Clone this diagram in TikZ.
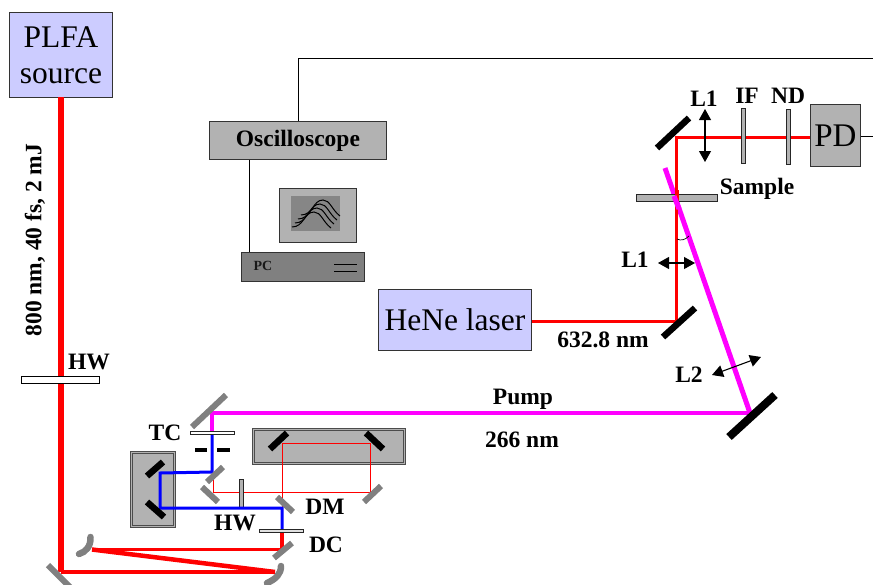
\documentclass[tikz,border=0pt]{standalone}
\usepackage{fontspec}
\setmainfont{Liberation Serif}
\usetikzlibrary{arrows.meta}
\definecolor{boxblue}{HTML}{CCCCFF}
\definecolor{midgray}{HTML}{B2B2B2}
\definecolor{dkgray}{HTML}{808080}
\definecolor{beam}{HTML}{FF0000}
\definecolor{pump}{HTML}{FF00FF}
\definecolor{seed}{HTML}{0000FF}
\tikzset{
  lab/.style={font=\fontsize{23.5}{25}\selectfont\bfseries,inner sep=0pt},
  bigbox/.style={draw=black!80,line width=0.9pt,fill=boxblue,inner sep=0pt,align=center,font=\fontsize{31.5}{35}\selectfont},
  graybox/.style={draw=black!80,line width=0.9pt,fill=midgray,inner sep=0pt},
  plate/.style={draw=black!85,line width=0.7pt,fill=midgray},
  wplate/.style={draw=black,line width=0.7pt,fill=white},
  bmir/.style={line width=6.5pt,black},
  gmir/.style={line width=6pt,dkgray},
  cmir/.style={line width=6.5pt,dkgray,line cap=round},
  tray/.style={draw=black!70,line width=0.8pt,double=midgray,double distance=1.4pt,fill=midgray},
  wire/.style={line width=0.8pt,black},
  dbl/.style={line width=1.1pt,black,{Triangle[length=11pt,width=12pt]}-{Triangle[length=11pt,width=12pt]}},
}
\begin{document}
\begin{tikzpicture}[x=1pt,y=-1pt]
\useasboundingbox (0,0) rectangle (873,584);
\clip (0,0) rectangle (873,584);
% coordinates
\coordinate (srcout) at (60.5,97);
\coordinate (m0) at (60.5,572);
\coordinate (cm2) at (275,572);
\coordinate (cm1) at (92,549.5);
\coordinate (dc) at (282,549.5);
\coordinate (dm) at (282,508);
\coordinate (lowb) at (160,508);
\coordinate (upb) at (160,473);
\coordinate (tcm) at (212,472);
\coordinate (tcplate) at (212,432);
\coordinate (pm0) at (212,413);
\coordinate (pm1) at (750,413);
\coordinate (pend) at (665,168);
\coordinate (hen1) at (676.5,321);
\coordinate (hen2) at (676.5,137);
\coordinate (l1a) at (282,443);
\coordinate (l1b) at (370,443);
\coordinate (l1c) at (370,492);
\coordinate (l1d) at (213,492);
\coordinate (l1e) at (213,480);
% boxes
\node[bigbox,minimum width=103pt,minimum height=85pt,anchor=north west] (plfa) at (9,12) {PLFA\\[1pt]source};
\node[bigbox,minimum width=153pt,minimum height=61pt,anchor=north west] (hene) at (378,289) {HeNe laser};
\node[graybox,minimum width=177pt,minimum height=38pt,anchor=north west,font=\fontsize{23.5}{25}\selectfont\bfseries] (osc) at (209,121) {Oscilloscope};
\node[graybox,minimum width=50pt,minimum height=62pt,anchor=north west,font=\fontsize{33}{35}\selectfont] (pd) at (810,104) {PD};
% wires
\coordinate (wtop) at (298,58);
\coordinate (wright) at (873,58);
\coordinate (wpd) at (873,136);
\coordinate (wpc) at (249,252);
\draw[wire] (osc.north -| wtop) -- (wtop) -- (wright);
\draw[wire] (pd.east |- wpd) -- (wpd);
\draw[wire] (osc.south -| wpc) -- (wpc);
% monitor and PC
\node[graybox,minimum width=77pt,minimum height=54pt,anchor=north west] (mon) at (279,188) {};
\node[fill=dkgray!95,inner sep=0pt,minimum width=49pt,minimum height=35pt,anchor=north west] (scr) at (291,196) {};
\foreach \dx/\dy in {0/0,3/-4,6/-8,9/-12}{
 \draw[line width=1pt,black,shift={(\dx,\dy)}] (292,227) .. controls (304,227) and (304,212) .. (314,212) .. controls (321,212) and (323,222) .. (331,228);
}
\node[draw=black!80,line width=0.9pt,fill=dkgray,minimum width=123pt,minimum height=29pt,anchor=north west,inner sep=0pt] (pc) at (241,252) {};
\node[font=\fontsize{14}{16}\selectfont\bfseries,inner sep=0pt,text=black!90] (pctxt) at (263,266) {PC};
\coordinate (pa1) at (334,264); \coordinate (pa2) at (357,264);
\coordinate (pb1) at (334,271); \coordinate (pb2) at (357,271);
\draw[line width=1pt] (pa1) -- (pa2); \draw[line width=1pt] (pb1) -- (pb2);
% trays
\node[tray,minimum width=43pt,minimum height=74pt,anchor=north west,inner sep=0pt] (trayL) at (131,452) {};
\node[tray,minimum width=151pt,minimum height=34pt,anchor=north west,inner sep=0pt] (trayR) at (253,429) {};
% thin red loop
\draw[line width=0.8pt,beam] (dm) -- (l1a) -- (l1b) -- (l1c) -- (l1d) -- (l1e);
% plates behind beams
\node[plate,minimum width=4pt,minimum height=28pt,inner sep=0pt] (hwb) at (241,493) {};
% beams
\draw[line width=6pt,beam] (srcout) -- (m0);
\draw[line width=4.5pt,beam] (m0) -- (cm2);
\draw[line width=4.5pt,beam] (cm2) -- (cm1);
\draw[line width=3.5pt,beam] (cm1) -- (dc) -- (282,532);
\draw[line width=3pt,seed,line join=miter] (282,532) -- (dm) -- (lowb) -- (upb) -- (tcm) -- (tcplate);
\draw[line width=4.2pt,pump,line join=miter] (tcplate) -- (pm0) -- (pm1);
\draw[line width=5pt,pump] (pm1) -- (pend);
\draw[line width=3pt,beam,line join=miter] (hene.east |- hen1) -- (hen1) -- (hen2) -- (pd.west |- hen2);
% mirrors
\coordinate (g1a) at (48,565); \coordinate (g1b) at (73,590);
\draw[gmir] (g1a) -- (g1b);
\draw[cmir] (90.5,537) .. controls (91,546) and (86,552) .. (79,554);
\draw[cmir] (281,566) .. controls (281,574) and (276,579) .. (267,583);
\draw[gmir] (274,558) -- (292,543);
\draw[gmir] (277,497) -- (293,512);
\draw[gmir] (192,427) -- (226,395);
\draw[gmir] (207,482) -- (223,467);
\draw[gmir] (202,487) -- (218,502);
\draw[gmir] (364,502) -- (381,486);
\draw[bmir] (147,476) -- (163,462);
\draw[bmir] (147,502) -- (164,517);
\draw[bmir] (270,449) -- (287,433);
\draw[bmir] (366,433) -- (383,449);
\draw[bmir] (663,337) -- (695,308);
\draw[bmir] (657,148) -- (689,118);
\draw[line width=8pt,black] (729,437) -- (775,395);
% plates
\node[wplate,minimum width=78pt,minimum height=7pt,inner sep=0pt,anchor=north west] (hwtop) at (21,376) {};
\node[plate,minimum width=44pt,minimum height=3pt,inner sep=0pt,anchor=north west,fill=white] (tc) at (190,431) {};
\node[plate,minimum width=44pt,minimum height=3pt,inner sep=0pt,anchor=north west,fill=midgray!40] (dcp) at (259,529) {};
\fill (195,448) rectangle (207,452);
\fill (217,448) rectangle (230,452);
\node[plate,minimum width=81pt,minimum height=7pt,inner sep=0pt,anchor=north west] (samp) at (636,194) {};
\node[plate,minimum width=4pt,minimum height=55pt,inner sep=0pt,anchor=north west] (ifp) at (741,108) {};
\node[plate,minimum width=4pt,minimum height=55pt,inner sep=0pt,anchor=north west] (ndp) at (786,109) {};
\draw[line width=4pt,beam] (676.5,190) -- (676.5,205);
\draw[line width=5pt,pump] (674,196) -- (679,209);
% arrows
\coordinate (a1) at (705,109); \coordinate (a2) at (705,162);
\draw[dbl] (a1) -- (a2);
\coordinate (b1) at (658,263); \coordinate (b2) at (695,263);
\draw[dbl] (b1) -- (b2);
\coordinate (c1) at (712,375); \coordinate (c2) at (761,357);
\draw[dbl] (c1) -- (c2);
\draw[line width=0.7pt] (677,239) .. controls (681,241) and (685,240) .. (689,236);
% labels
\node[lab] (t1) at (704,99) {L1};
\node[lab] (t2) at (747,96) {IF};
\node[lab] (t3) at (788,96) {ND};
\node[lab] (t4) at (757,189) {Sample};
\node[lab] (t5) at (635,260) {L1};
\node[lab] (t6) at (689,375) {L2};
\node[lab] (t7) at (603,340) {632.8 nm};
\node[lab] (t8) at (523,399) {Pump};
\node[lab] (t9) at (522,440) {266 nm};
\node[lab] (t10) at (89,362) {HW};
\node[lab] (t11) at (165,433) {TC};
\node[lab] (t12) at (325,507) {DM};
\node[lab] (t13) at (235,523) {HW};
\node[lab] (t14) at (326,545) {DC};
\node[lab,rotate=90] (t15) at (35,240) {800 nm, 40 fs, 2 mJ};
\end{tikzpicture}
\end{document}
